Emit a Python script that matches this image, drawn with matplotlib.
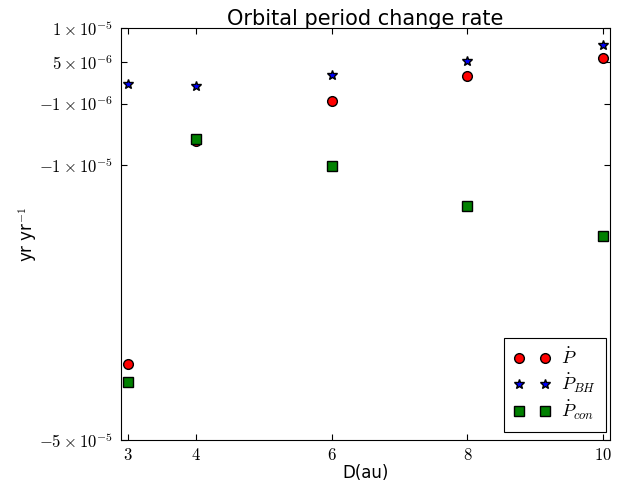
import matplotlib
matplotlib.use("Agg")
import matplotlib.pyplot as plt

# distances (au)
D = [3, 4, 6, 8, 10]

# period change rates
P_dot = [-3.89e-5, -6.5e-6, -0.6e-6, 2.96e-6, 5.7e-6]
P_bh = [1.85e-6, 1.55e-6, 3.16e-6, 5.2e-6, 7.5e-6]
P_con = [-4.155e-5, -6.2e-6, -1.01e-5, -1.59e-5, -2.03e-5]

xticks = [3, 4, 6, 8, 10]
yticks = [1e-5, 5e-6, -1e-6, -1e-5, -5e-5]
ytick_labels = [r'$1\times10^{-5}$', r'$5\times10^{-6}$', r'$-1\times10^{-6}$',
                r'$-1\times10^{-5}$', r'$-5\times10^{-5}$']

plt.rcParams['mathtext.fontset'] = 'cm'

fig = plt.figure(figsize=(6.28, 4.87), dpi=100)
ax = fig.add_axes([0.1927, 0.0965, 0.7786, 0.846])

ax.plot(D, P_dot, 'o', color='red', mec='black', ms=7, label=r'$\dot{P}$')
ax.plot(D, P_bh, '*', color='blue', mec='black', ms=7.5, label=r'$\dot{P}_{BH}$')
ax.plot(D, P_con, 's', color='green', mec='black', ms=7, label=r'$\dot{P}_{con}$')

ax.set_xlim(2.9, 10.1)
ax.set_ylim(-5e-5, 1e-5)
ax.set_xticks(xticks)
ax.set_xticklabels(['$%d$' % t for t in xticks])
ax.set_yticks(yticks)
ax.set_yticklabels(ytick_labels)
ax.tick_params(direction='in', top=True, right=True, length=4, labelsize=12)
ax.tick_params(axis='x', pad=4)
ax.tick_params(axis='y', pad=6)

ax.set_title('Orbital period change rate', fontsize=15, pad=2)
ax.set_xlabel('D(au)', fontsize=12, labelpad=0)
ax.set_ylabel(r'yr yr$^{-1}$', fontsize=12, labelpad=0)

leg = ax.legend(loc='lower right', bbox_to_anchor=(0.992, 0.019), borderaxespad=0,
                numpoints=2, fancybox=False, fontsize=13, framealpha=1,
                edgecolor='black', borderpad=0.55, labelspacing=0.2,
                handlelength=2.0, handletextpad=0.6)
leg.get_frame().set_linewidth(0.8)

fig.savefig('out.png', dpi=100)
